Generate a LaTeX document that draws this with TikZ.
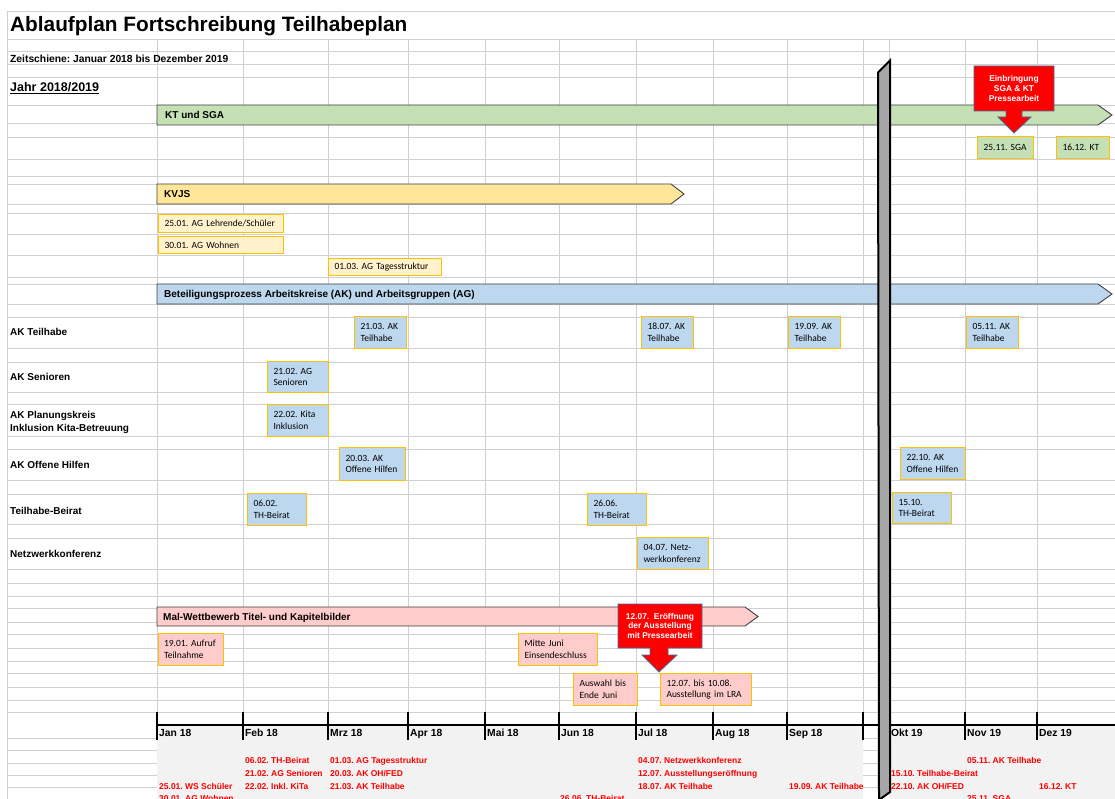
\documentclass[tikz,border=0pt]{standalone}
\usepackage{fontspec}
\setmainfont{Liberation Sans}
\newfontfamily\calfont{Carlito}
\usepackage{tikz}

\definecolor{gridgray}{HTML}{D0D0D0}
\definecolor{boxorange}{HTML}{FFC000}
\definecolor{bardark}{HTML}{404040}
\definecolor{ktgreen}{HTML}{C5E0B4}
\definecolor{kvjsgold}{HTML}{FFE699}
\definecolor{kvjslight}{HTML}{FFF2CC}
\definecolor{akblue}{HTML}{BDD7EE}
\definecolor{malpink}{HTML}{FFCCCC}
\definecolor{listred}{HTML}{FF0000}
\definecolor{calloutblue}{HTML}{41719C}
\definecolor{listgray}{HTML}{F2F2F2}
\definecolor{bruchgray}{HTML}{A6A6A6}

\begin{document}
\frenchspacing
\begin{tikzpicture}[x=1pt,y=-1pt,
    gitter/.style={draw=gridgray,line width=0.8pt},
    termin/.style={draw=boxorange,line width=1pt,anchor=north west,inner xsep=6pt,inner ysep=0pt,align=left,font=\calfont\fontsize{9.5}{11.7}\selectfont},
    balken/.style={draw=bardark,line width=0.9pt},
    balkentext/.style={anchor=base west,inner sep=0pt,font=\bfseries\fontsize{10}{12}\selectfont},
    zeile/.style={anchor=base west,inner sep=0pt,font=\bfseries\fontsize{10}{13}\selectfont},
    monat/.style={anchor=base west,inner sep=0pt,font=\bfseries\fontsize{10.3}{12}\selectfont},
    liste/.style={anchor=base west,inner sep=0pt,text=listred,font=\bfseries\fontsize{8.5}{10}\selectfont},
    hinweis/.style={fill=red,draw=calloutblue,line width=0.8pt},
    hinweistext/.style={text=white,align=center,inner sep=0pt,font=\bfseries\fontsize{8.4}{9.7}\selectfont}]
    \useasboundingbox (0,0) rectangle (1115,799);
    \fill[white] (0,0) rectangle (1115,799);

    % raster
    \foreach \y in {11,39,51,64,77,105,123,137,159,176,184,204,213,234,255,277,284,304,317,348,362,392,404,436,449,480,494,524,538,569,583,596,608,622,634,648,661,673,687,700,712,738,750,763,775,787}
        \draw[gitter] (7,\y) -- (1115,\y);
    \foreach \x in {157,243,328,408,485,559,636,713,787,863,889,965,1037}
        \draw[gitter] (\x,39) -- (\x,712);
    \draw[gitter] (7,11) -- (7,799);

    % kopf
    \node[anchor=base west,inner sep=0pt,font=\bfseries\fontsize{20.8}{24}\selectfont] (titel) at (10,32) {Ablaufplan Fortschreibung Teilhabeplan};
    \node[anchor=base west,inner sep=0pt,font=\bfseries\fontsize{10.3}{12}\selectfont] (zeitschiene) at (10,62.3) {Zeitschiene: Januar 2018 bis Dezember 2019};
    \node[anchor=base west,inner sep=0pt,font=\bfseries\fontsize{12.5}{14}\selectfont] (jahr) at (10,91.7) {\underline{Jahr 2018/2019}};

    % balken
    \draw[balken,fill=ktgreen] (157,105) -- (1098,105) -- (1112,115) -- (1098,125) -- (157,125) -- cycle;
    \node[balkentext] (kt) at (165,118.8) {KT und SGA};
    \draw[balken,fill=kvjsgold] (157,184) -- (671,184) -- (684,194) -- (671,204) -- (157,204) -- cycle;
    \node[balkentext] (kvjs) at (164,197.6) {KVJS};
    \draw[balken,fill=akblue] (157,284) -- (1098,284) -- (1112,294) -- (1098,304) -- (157,304) -- cycle;
    \node[balkentext] (beteiligung) at (164,297.6) {Beteiligungsprozess Arbeitskreise (AK) und Arbeitsgruppen (AG)};
    \draw[balken,fill=malpink] (157,607) -- (745,607) -- (758,616.5) -- (745,626) -- (157,626) -- cycle;
    \node[balkentext] (mal) at (163,620.3) {Mal-Wettbewerb Titel- und Kapitelbilder};

    % zeilen
    \node[zeile] (zteilhabe) at (10,335.6) {AK Teilhabe};
    \node[zeile] (zsenioren) at (10,380.6) {AK Senioren};
    \node[zeile,anchor=west,align=left] (zkita) at (10,422) {AK Planungskreis\\Inklusion Kita-Betreuung};
    \node[zeile] (zoffen) at (10,468.6) {AK Offene Hilfen};
    \node[zeile] (zbeirat) at (10,514.3) {Teilhabe-Beirat};
    \node[zeile] (znetz) at (10,557.6) {Netzwerkkonferenz};

    % termine KT und SGA
    \node[termin,fill=ktgreen,text width=44pt,minimum height=22pt] (sga) at (977,136) {25.11. SGA};
    \node[termin,fill=ktgreen,text width=41pt,minimum height=22pt] (ktend) at (1056,136) {16.12. KT};

    % termine KVJS
    \node[termin,fill=kvjslight,text width=113pt,minimum height=18pt] (lehrende) at (158,214) {25.01. AG Lehrende/Schüler};
    \node[termin,fill=kvjslight,text width=113pt,minimum height=17pt] (wohnen) at (158,236) {30.01. AG Wohnen};
    \node[termin,fill=kvjslight,text width=101pt,minimum height=17pt] (tages) at (328,258) {01.03. AG Tagesstruktur};

    % termine AK
    \node[termin,fill=akblue,text width=40pt,minimum height=32pt] (teilA) at (354,316) {21.03. AK\\Teilhabe};
    \node[termin,fill=akblue,text width=40pt,minimum height=32pt] (teilB) at (641,316) {18.07. AK\\Teilhabe};
    \node[termin,fill=akblue,text width=40pt,minimum height=32pt] (teilC) at (788,316) {19.09. AK\\Teilhabe};
    \node[termin,fill=akblue,text width=40pt,minimum height=32pt] (teilD) at (966,316) {05.11. AK\\Teilhabe};
    \node[termin,fill=akblue,text width=49pt,minimum height=31pt] (senioren) at (267,361) {21.02. AG\\Senioren};
    \node[termin,fill=akblue,text width=49pt,minimum height=32pt] (kita) at (267,404) {22.02. Kita\\Inklusion};
    \node[termin,fill=akblue,text width=54pt,minimum height=33pt] (offenA) at (339,447) {20.03. AK\\Offene Hilfen};
    \node[termin,fill=akblue,text width=53pt,minimum height=32pt] (offenB) at (900,447) {22.10. AK\\Offene Hilfen};
    \node[termin,fill=akblue,text width=47pt,minimum height=32pt] (beiratA) at (247,493) {06.02.\\TH-Beirat};
    \node[termin,fill=akblue,text width=47pt,minimum height=32pt] (beiratB) at (587,493) {26.06.\\TH-Beirat};
    \node[termin,fill=akblue,text width=47pt,minimum height=31pt] (beiratC) at (892,492) {15.10.\\TH-Beirat};
    \node[termin,fill=akblue,text width=59pt,minimum height=32pt] (netz) at (637,537) {04.07. Netz-\\werkkonferenz};

    % termine Mal-Wettbewerb
    \node[termin,fill=malpink,text width=53pt,minimum height=32pt] (aufruf) at (157.5,633) {19.01. Aufruf\\Teilnahme};
    \node[termin,fill=malpink,text width=67pt,minimum height=32pt] (einsende) at (518,633) {Mitte Juni\\Einsendeschluss};
    \node[termin,fill=malpink,text width=52pt,minimum height=32pt] (auswahl) at (573,673) {Auswahl bis\\Ende Juni};
    \node[termin,fill=malpink,text width=79pt,minimum height=32pt] (ausstellung) at (660,673) {12.07. bis 10.08.\\Ausstellung im LRA};

    % hinweise
    \draw[hinweis] (974,66) -- (1054,66) -- (1054,111) -- (1022,111) -- (1022,117) -- (1031,117) -- (1014,133) -- (998,117) -- (1006,117) -- (1006,111) -- (974,111) -- cycle;
    \node[hinweistext] (einbringung) at (1014,88.6) {Einbringung\\SGA \& KT\\Pressearbeit};
    \draw[hinweis] (618,604) -- (702,604) -- (702,648) -- (668,648) -- (668,655) -- (677,655) -- (659,672) -- (642,655) -- (650,655) -- (650,648) -- (618,648) -- cycle;
    \node[hinweistext] (eroeffnung) at (660,625.7) {12.07.~~Eröffnung\\der Ausstellung\\mit Pressearbeit};

    % zeitleiste
    \fill[listgray] (157,725) rectangle (863,799);
    \fill[listgray] (889,725) rectangle (1115,799);
    \draw[line width=1.2pt] (157,725) -- (1115,725);
    \foreach \x in {157,243,328,408,485,559,636,713,787,863,889,965,1037}
        \draw[line width=1.2pt] (\x,712) -- (\x,740);
    \foreach \x/\m in {157/Jan 18,243/Feb 18,328/Mrz 18,408/Apr 18,485/Mai 18,559/Jun 18,636/Jul 18,713/Aug 18,787/Sep 18,889/Okt 19,965/Nov 19,1037/Dez 19}
        \node[monat] (m\x) at (\x+2,736.4) {\m};

    % liste
    \node[liste] (l1) at (159,789) {25.01. WS Schüler};
    \node[liste] (l2) at (159,801.5) {30.01. AG Wohnen};
    \node[liste] (l3) at (245,763.4) {06.02. TH-Beirat};
    \node[liste] (l4) at (245,776) {21.02. AG Senioren};
    \node[liste] (l5) at (245,789) {22.02. Inkl. KiTa};
    \node[liste] (l6) at (330,763.4) {01.03. AG Tagesstruktur};
    \node[liste] (l7) at (330,776) {20.03. AK OH/FED};
    \node[liste] (l8) at (330,789) {21.03. AK Teilhabe};
    \node[liste] (l9) at (560,801.5) {26.06. TH-Beirat};
    \node[liste] (l10) at (638,763.4) {04.07. Netzwerkkonferenz};
    \node[liste] (l11) at (638,776) {12.07. Ausstellungseröffnung};
    \node[liste] (l12) at (638,789) {18.07. AK Teilhabe};
    \node[liste] (l13) at (789,789) {19.09. AK Teilhabe};
    \node[liste] (l14) at (891,776) {15.10. Teilhabe-Beirat};
    \node[liste] (l15) at (891,789) {22.10. AK OH/FED};
    \node[liste] (l16) at (967,763.4) {05.11. AK Teilhabe};
    \node[liste] (l17) at (967,801.5) {25.11. SGA};
    \node[liste] (l18) at (1039,789) {16.12. KT};

    % bruch
    \draw[line width=2pt,fill=bruchgray] (878,72.5) -- (890,60.5) -- (890,792) -- (879,800) -- cycle;
\end{tikzpicture}
\end{document}
